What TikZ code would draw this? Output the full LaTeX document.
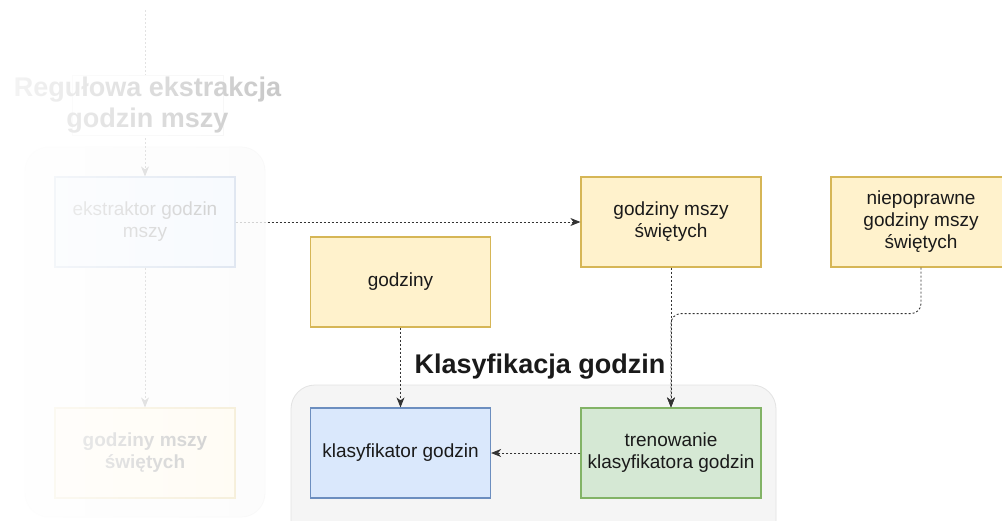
\documentclass[tikz,border=0pt]{standalone}
\usepackage{fontspec}
\setmainfont{Liberation Sans}
\usetikzlibrary{arrows.meta,fadings}
\definecolor{ylwfill}{HTML}{FFF2CC}
\definecolor{ylwdraw}{HTML}{D6B656}
\definecolor{bluefill}{HTML}{DAE8FC}
\definecolor{bluedraw}{HTML}{6C8EBF}
\definecolor{grnfill}{HTML}{D5E8D4}
\definecolor{grndraw}{HTML}{82B366}
\definecolor{contfill}{HTML}{F5F5F5}
\definecolor{contdraw}{HTML}{E3E3E3}
\definecolor{linecol}{HTML}{333333}
\definecolor{txtcol}{HTML}{1A1A1A}
\tikzfading[name=leftfade, left color=transparent!4, right color=transparent!24]
\tikzset{
  box/.style={draw, line width=1.2pt, minimum width=180pt, minimum height=90pt,
    align=center, text=txtcol, font=\fontsize{19}{22}\selectfont, inner sep=2pt},
  ybox/.style={box, fill=ylwfill, draw=ylwdraw},
  bbox/.style={box, fill=bluefill, draw=bluedraw},
  gbox/.style={box, fill=grnfill, draw=grndraw},
  conn/.style={draw=linecol, line width=0.9pt, dash pattern=on 2pt off 2pt,
    -{Stealth[length=10pt,width=8pt,inset=3pt]}},
  cont/.style={fill=contfill, draw=contdraw, rounded corners=24pt, line width=0.8pt},
  ttl/.style={font=\bfseries\fontsize{27}{31}\selectfont, align=center, text=txtcol, inner sep=0pt}
}
\begin{document}
\begin{tikzpicture}[x=1pt,y=-1pt]
\useasboundingbox (0,0) rectangle (1002,520);
\fill[white] (0,0) rectangle (1002,520);
\clip (0,0) rectangle (1002,520);
% right group
\draw[cont] (291,385) rectangle (776,560);
\node[ttl] (ktitle) at (540,367) {Klasyfikacja godzin};
\node[ybox] (godziny) at (400.5,282) {godziny};
\node[ybox] (gms) at (671,222) {godziny mszy\\świętych};
\node[ybox] (niep) at (921,222) {niepoprawne\\godziny mszy\\świętych};
\node[bbox] (klas) at (400.5,453) {klasyfikator godzin};
\node[gbox] (tren) at (671,453) {trenowanie\\klasyfikatora godzin};
\draw[conn] (godziny) -- (klas);
\draw[conn] (gms) -- (tren);
\draw[conn, rounded corners=10pt] (niep.south) -- ++(0,46) -| (tren.north);
\draw[conn] (tren) -- (klas);
% left group (faded)
\draw[cont] (25,147) rectangle (265,517);
\coordinate (topend) at (145,10);
\node[bbox] (ekstr) at (145,222) {ekstraktor godzin\\mszy};
\node[ybox, font=\bfseries\fontsize{19}{22}\selectfont] (gmsfade) at (145,453) {godziny mszy\\świętych};
\draw[conn] (topend) -- (ekstr);
\draw[conn] (ekstr) -- (gmsfade);
\draw[conn] (ekstr) -- (gms);
\node[draw=gray!30, fill=white, minimum width=151pt, minimum height=60pt, inner sep=0pt] (ltitlebox) at (147.5,105) {};
\node[ttl] (ltitle) at (ltitlebox.center) {Regułowa ekstrakcja\\godzin mszy};
\fill[white, path fading=leftfade] (0,0) -- (282,0) -- (282,146) -- (266,146) -- (266,520) -- (0,520) -- cycle;
\end{tikzpicture}
\end{document}
